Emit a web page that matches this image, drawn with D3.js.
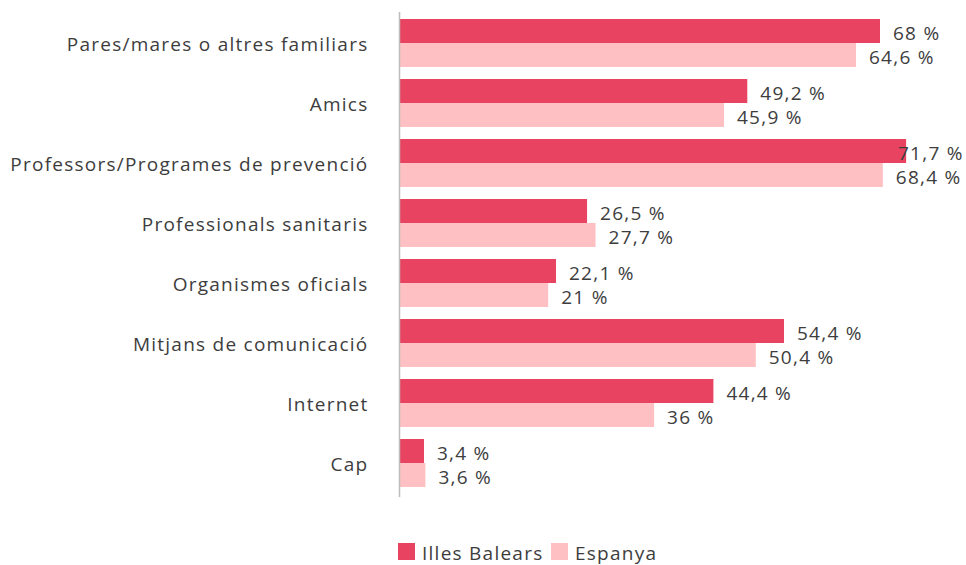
<!DOCTYPE html>
<html>
<head>
<meta charset="utf-8">
<script src="https://cdn.jsdelivr.net/npm/d3@7"></script>
<style>
  html, body { margin: 0; padding: 0; background: #fff; }
  svg { display: block; font-family: "Open Sans", Lato, sans-serif; }
</style>
</head>
<body>
<svg id="chart" width="966" height="565"></svg>
<script>
const categories = [
  "Pares/mares o altres familiars",
  "Amics",
  "Professors/Programes de prevenció",
  "Professionals sanitaris",
  "Organismes oficials",
  "Mitjans de comunicació",
  "Internet",
  "Cap"
];
const seriesNames = ["Illes Balears", "Espanya"];
const balears = [68, 49.2, 71.7, 26.5, 22.1, 54.4, 44.4, 3.4];
const espanya = [64.6, 45.9, 68.4, 27.7, 21, 50.4, 36, 3.6];
const colors = ["#E84462", "#FFC0C3"];

const svg = d3.select("#chart");
const x0 = 400;
const fontFamily = "'Open Sans', Lato, sans-serif";
const textColor = "#3d3d3d";
const fontSize = 19;
const tracking = "1.25px";

const x = d3.scaleLinear().domain([0, 68]).range([x0, 880]);
const y = d3.scaleBand().domain(categories).range([13, 493]).paddingInner(0.2).paddingOuter(0.1);
const ySub = d3.scaleBand().domain(seriesNames).range([0, y.bandwidth()]);

const fmt = v => String(v).replace(".", ",") + " %";

const rows = categories.map((c, i) => ({ cat: c, vals: [balears[i], espanya[i]] }));

const g = svg.append("g");
const grp = g.selectAll("g.row").data(rows).join("g")
  .attr("class", "row")
  .attr("transform", d => `translate(0,${y(d.cat)})`);

grp.selectAll("rect").data(d => d.vals.map((v, k) => ({ v, k }))).join("rect")
  .attr("x", x0)
  .attr("y", d => ySub(seriesNames[d.k]))
  .attr("width", d => x(d.v) - x0)
  .attr("height", ySub.bandwidth())
  .attr("fill", d => colors[d.k]);

// value labels sit after the bar end, pulled back so they stay inside the frame
const labelMaxX = 898;
grp.selectAll("text.val").data(d => d.vals.map((v, k) => ({ v, k }))).join("text")
  .attr("class", "val")
  .attr("x", d => Math.min(x(d.v) + 13, labelMaxX))
  .attr("y", d => ySub(seriesNames[d.k]) + ySub.bandwidth() / 2 + 2)
  .attr("dy", "0.36em")
  .attr("font-size", fontSize)
  .attr("font-family", fontFamily)
  .attr("letter-spacing", tracking)
  .attr("fill", textColor)
  .text(d => fmt(d.v));

// category axis
const axis = d3.axisLeft(y).tickSize(0).tickPadding(31);
const ax = svg.append("g").attr("transform", `translate(${x0 - 0.5},2)`).call(axis);
ax.select(".domain").attr("d", "M0,10V495").attr("stroke", "#bdbdbd").attr("stroke-width", 1.5);
ax.selectAll("text").attr("font-size", fontSize).attr("fill", textColor)
  .attr("font-family", fontFamily).attr("letter-spacing", tracking);

// legend
const legend = svg.append("g").attr("transform", "translate(398,552)");
const items = [{ name: seriesNames[0], x: 0 }, { name: seriesNames[1], x: 153 }];
items.forEach((it, k) => {
  legend.append("rect").attr("x", it.x).attr("y", -9).attr("width", 17).attr("height", 17).attr("fill", colors[k]);
  legend.append("text").attr("x", it.x + 24).attr("y", 1).attr("dy", "0.36em")
    .attr("font-size", fontSize).attr("font-family", fontFamily)
    .attr("letter-spacing", tracking)
    .attr("fill", textColor).text(it.name);
});
</script>
</body>
</html>
